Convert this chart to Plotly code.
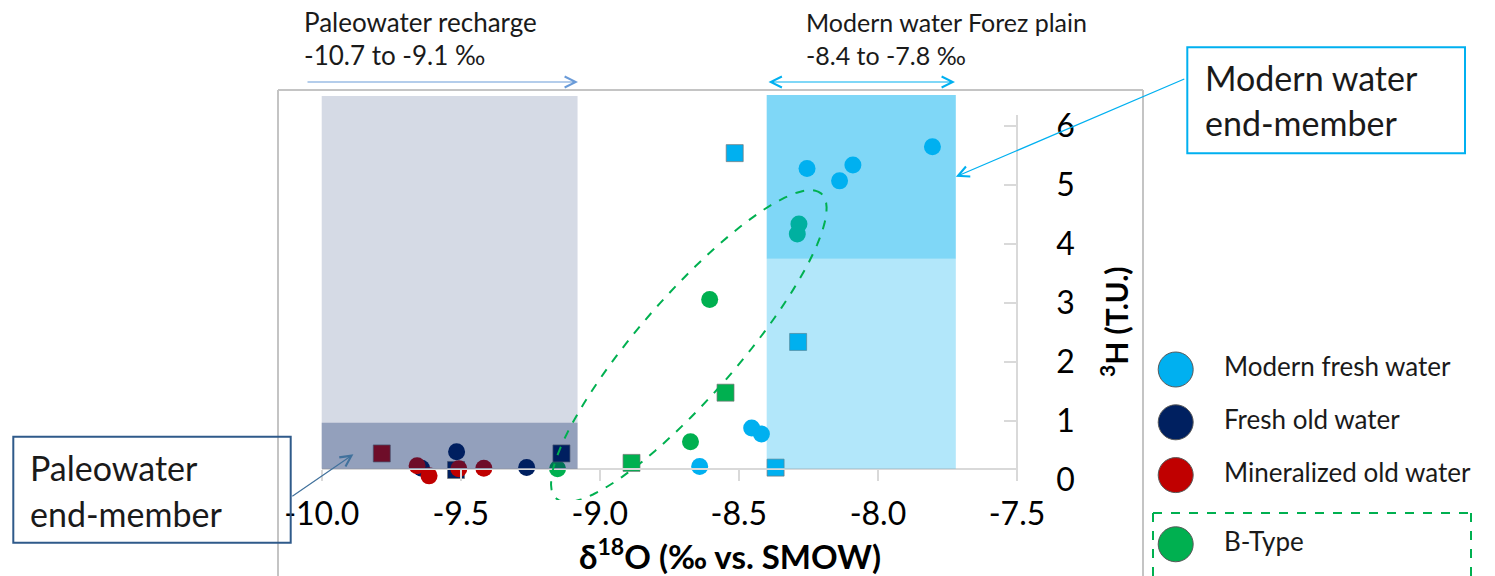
import numpy as np
import plotly.graph_objects as go

W, H = 1495, 576
FONT = "Lato, 'Open Sans', sans-serif"

# ---------------- data ----------------
X_TICKS = [-10.0, -9.5, -9.0, -8.5, -8.0, -7.5]
X_TICK_TEXT = ["-10.0", "-9.5", "-9.0", "-8.5", "-8.0", "-7.5"]
Y_TICKS = [0, 1, 2, 3, 4, 5, 6]

GROUPS = ["Modern fresh water", "Fresh old water", "Mineralized old water", "B-Type"]

modern_circle_x = [-8.255, -8.138, -8.090, -7.804, -8.454, -8.419, -8.641]
modern_circle_y = [5.28, 5.07, 5.34, 5.65, 0.88, 0.78, 0.23]
modern_square_x = [-8.515, -8.287, -8.368]
modern_square_y = [5.54, 2.34, 0.21]

btype_circle_x = [-8.284, -8.290, -8.605, -8.674, -9.152]
btype_circle_y = [4.34, 4.17, 3.06, 0.65, 0.19]
btype_square_x = [-8.548, -8.886]
btype_square_y = [1.48, 0.29]

fresh_old_circle_x = [-9.641, -9.515, -9.263]
fresh_old_circle_y = [0.20, 0.48, 0.21]
fresh_old_square_x = [-9.517, -9.138]
fresh_old_square_y = [0.17, 0.45]

mineral_circle_x = [-9.657, -9.614, -9.507, -9.417]
mineral_circle_y = [0.24, 0.07, 0.19, 0.20]
mineral_square_x = [-9.784]
mineral_square_y = [0.45]

# end-member zones (x: d18O, y: 3H)
PALEO_LABEL = (-10.7, -9.1)
MODERN_LABEL = (-8.4, -7.8)
PALEO_X = [-10.7, -9.08]
PALEO_Y = [0.19, 6.51]
PALEO_CORE_Y = [0.19, 0.97]
MODERN_X = [-8.4, -7.72]
MODERN_LOW_Y = [0.19, 3.75]
MODERN_HIGH_Y = [3.75, 6.525]

# B-type grouping ellipse (centre in data units, axes in pixels, angle in degrees)
ELL_CENTER = (-8.68, 2.27)
ELL_AXES_PX = (202, 50)
ELL_ANGLE = 49

COLORS = {
    "Modern fresh water": "#00b0f0",
    "Fresh old water": "#002060",
    "Mineralized old water": "#c00000",
    "B-Type": "#00b050",
}

# ---------------- helpers (layout) ----------------
def fx(p):
    return p / W


def fy(p):
    return 1 - p / H


X_DOM_PX = (321.7, 1017.0)
XPX = (X_DOM_PX[1] - X_DOM_PX[0]) / (X_TICKS[-1] - X_TICKS[0])
Y0_PX = 480.0
YPX = 59.0
MAIN_Y_DOM_PX = (500.0, 95.0)
AXIS_Y_DOM_PX = (480.0, 115.0)
XAXIS_LINE_PX = 469.0

fig = go.Figure()

# dummy trace so the visible tritium axis gets drawn
fig.add_trace(go.Scatter(x=[], y=[], xaxis="x", yaxis="y2", showlegend=False, hoverinfo="skip"))


def add_pts(xs, ys, group, symbol):
    fig.add_trace(go.Scatter(
        x=xs, y=ys, mode="markers", xaxis="x", yaxis="y", name=group,
        showlegend=False, cliponaxis=False,
        marker=dict(size=17, symbol=symbol, color=COLORS[group],
                    line=dict(width=1 if symbol == "square" else 0, color="rgba(120,120,120,0.7)")),
    ))


add_pts(modern_circle_x, modern_circle_y, "Modern fresh water", "circle")
add_pts(modern_square_x, modern_square_y, "Modern fresh water", "square")
add_pts(btype_circle_x, btype_circle_y, "B-Type", "circle")
add_pts(btype_square_x, btype_square_y, "B-Type", "square")
add_pts(fresh_old_square_x, fresh_old_square_y, "Fresh old water", "square")
add_pts(fresh_old_circle_x, fresh_old_circle_y, "Fresh old water", "circle")
add_pts(mineral_square_x, mineral_square_y, "Mineralized old water", "square")
add_pts(mineral_circle_x, mineral_circle_y, "Mineralized old water", "circle")

# ---------------- custom legend (own small subplot) ----------------
LEG_ROWS = [0, 1, 2, 3.31]
LEG_DOM_PX = (1150.0, 1490.0)
LEG_MARK_PX, LEG_TEXT_PX = 1175.7, 1224.0
leg_scale = LEG_TEXT_PX - LEG_MARK_PX
LEG_ROW0_PX, LEG_ROW_PX = 369.5, 52.8

fig.add_trace(go.Scatter(
    x=[0] * len(GROUPS), y=LEG_ROWS, mode="markers", xaxis="x3", yaxis="y3",
    showlegend=False, hoverinfo="skip", cliponaxis=False,
    marker=dict(size=35, color=[COLORS[g] for g in GROUPS], line=dict(width=1, color="#595959")),
))
fig.add_trace(go.Scatter(
    x=[1] * len(GROUPS), y=LEG_ROWS, mode="text", xaxis="x3", yaxis="y3",
    text=GROUPS, textposition="middle right", showlegend=False, hoverinfo="skip", cliponaxis=False,
    textfont=dict(family=FONT, size=26, color="#1a1a1a"),
))

# ---------------- shapes ----------------
shapes = []


def pline(x0, y0, x1, y1, color, width, dash="solid", layer="below"):
    shapes.append(dict(type="line", xref="paper", yref="paper", x0=fx(x0), y0=fy(y0), x1=fx(x1), y1=fy(y1),
                       line=dict(color=color, width=width, dash=dash), layer=layer))


# outer frame (left, top, right; continues past the bottom edge)
pline(278, H, 278, 90, "#c4c4c4", 2)
pline(278, 90, 1143, 90, "#c4c4c4", 2)
pline(1143, 90, 1143, H, "#c4c4c4", 2)

# paleowater zone
shapes.append(dict(type="rect", xref="x", yref="y", x0=PALEO_X[0], x1=PALEO_X[1], y0=PALEO_Y[0], y1=PALEO_Y[1],
                   line=dict(width=0), fillcolor="rgba(0,32,96,0.165)", layer="above"))
shapes.append(dict(type="rect", xref="x", yref="y", x0=PALEO_X[0], x1=PALEO_X[1], y0=PALEO_CORE_Y[0], y1=PALEO_CORE_Y[1],
                   line=dict(width=0), fillcolor="rgba(0,32,96,0.31)", layer="above"))
# modern zone
shapes.append(dict(type="rect", xref="x", yref="y", x0=MODERN_X[0], x1=MODERN_X[1], y0=MODERN_LOW_Y[0], y1=MODERN_LOW_Y[1],
                   line=dict(width=0), fillcolor="rgba(0,176,240,0.30)", layer="above"))
shapes.append(dict(type="rect", xref="x", yref="y", x0=MODERN_X[0], x1=MODERN_X[1], y0=MODERN_HIGH_Y[0], y1=MODERN_HIGH_Y[1],
                   line=dict(width=0), fillcolor="rgba(0,176,240,0.50)", layer="above"))

# B-type ellipse
t = np.linspace(0, 2 * np.pi, 97)
th = np.deg2rad(ELL_ANGLE)
a, b = ELL_AXES_PX
dx = a * np.cos(t) * np.cos(th) - b * np.sin(t) * np.sin(th)
dy = a * np.cos(t) * np.sin(th) + b * np.sin(t) * np.cos(th)
ex = ELL_CENTER[0] + dx / XPX
ey = ELL_CENTER[1] + dy / YPX
path = "M " + " L ".join(f"{u:.4f},{v:.4f}" for u, v in zip(ex, ey)) + " Z"
shapes.append(dict(type="path", xref="x", yref="y", path=path,
                   line=dict(color="#00b050", width=2, dash="dash"), layer="above"))

# callout boxes
shapes.append(dict(type="rect", xref="paper", yref="paper", x0=fx(1187.3), x1=fx(1465), y0=fy(153.3), y1=fy(47.3),
                   line=dict(color="#00b0f0", width=2), fillcolor="rgba(0,0,0,0)"))
shapes.append(dict(type="rect", xref="paper", yref="paper", x0=fx(13.3), x1=fx(290.7), y0=fy(542.7), y1=fy(436.7),
                   line=dict(color="#2f5a8a", width=2), fillcolor="rgba(0,0,0,0)", layer="above"))
# B-type legend dashed box (open at the bottom edge)
pline(1153, H, 1153, 513, "#00b050", 2, "dash", "above")
pline(1153, 513, 1471, 513, "#00b050", 2, "dash", "above")
pline(1471, 513, 1471, H, "#00b050", 2, "dash", "above")

# ---------------- annotations ----------------
ann = []


def txt(s, xp, yp, size, anchor="left", color="#1a1a1a", **kw):
    ann.append(dict(text=s, xref="paper", yref="paper", x=fx(xp), y=fy(yp), xanchor=anchor, yanchor="middle",
                    showarrow=False, font=dict(family=FONT, size=size, color=color), **kw))


txt("Paleowater recharge", 302, 22, 26)
txt(f"{PALEO_LABEL[0]:.1f} to {PALEO_LABEL[1]:.1f} ‰", 302, 55, 26)
txt("Modern water Forez plain", 804, 22, 25)
txt(f"{MODERN_LABEL[0]:.1f} to {MODERN_LABEL[1]:.1f} ‰", 804, 55, 25)
txt("Modern water", 1203, 78, 34)
txt("end-member", 1203, 123, 34)
txt("Paleowater", 28, 467, 34)
txt("end-member", 28, 513, 34)
txt("<b>δ<sup>18</sup>O (‰ vs. SMOW)</b>", 730, 554, 33, anchor="center", color="#000")
txt("<b><sup>3</sup>H (T.U.)</b>", 1114, 322, 30, anchor="center", color="#000", textangle=-90)

# range arrows on top
ann.append(dict(text="", xref="paper", yref="paper", x=fx(578), y=fy(82), ax=-(578 - 306), ay=0,
                showarrow=True, arrowhead=5, arrowsize=1.8, arrowwidth=1.2, arrowcolor="#6a9bd8", standoff=0))
ann.append(dict(text="", xref="paper", yref="paper", x=fx(955), y=fy(82), ax=-(955 - 767), ay=0,
                showarrow=True, arrowhead=5, startarrowhead=5, arrowside="end+start",
                arrowsize=1.8, startarrowsize=1.8, arrowwidth=1.2, arrowcolor="#00b0f0", standoff=0, startstandoff=0))
# callout arrows
ann.append(dict(text="", xref="x", yref="y", x=MODERN_X[1], y=5.14, ax=230, ay=-98.4,
                showarrow=True, arrowhead=5, arrowsize=1.8, arrowwidth=1.2, arrowcolor="#00b0f0", standoff=0))
ann.append(dict(text="", xref="x", yref="y", x=-9.886, y=0.435, ax=-62.6, ay=43,
                showarrow=True, arrowhead=5, arrowsize=1.8, arrowwidth=1.2, arrowcolor="#41719c", standoff=0))

# ---------------- layout ----------------
fig.update_layout(
    width=W, height=H, margin=dict(l=0, r=0, t=0, b=0, pad=0), autosize=False,
    paper_bgcolor="white", plot_bgcolor="rgba(0,0,0,0)",
    font=dict(family=FONT, color="#000"),
    showlegend=False,
    shapes=shapes, annotations=ann,
    xaxis=dict(domain=[fx(X_DOM_PX[0]), fx(X_DOM_PX[1])], range=[X_TICKS[0], X_TICKS[-1]],
               anchor="free", position=fy(XAXIS_LINE_PX), automargin=False,
               showline=True, linecolor="#d9d9d9", linewidth=1.5,
               ticks="outside", ticklen=11, tickwidth=1.5, tickcolor="#d9d9d9",
               tickvals=X_TICKS, ticktext=X_TICK_TEXT, ticklabelstandoff=6,
               tickfont=dict(family=FONT, size=32, color="#000"),
               showgrid=False, zeroline=False, fixedrange=True),
    yaxis=dict(domain=[fy(MAIN_Y_DOM_PX[0]), fy(MAIN_Y_DOM_PX[1])],
               range=[(Y0_PX - MAIN_Y_DOM_PX[0]) / YPX, (Y0_PX - MAIN_Y_DOM_PX[1]) / YPX],
               visible=False, automargin=False, fixedrange=True),
    yaxis2=dict(domain=[fy(AXIS_Y_DOM_PX[0]), fy(AXIS_Y_DOM_PX[1])],
                range=[(Y0_PX - AXIS_Y_DOM_PX[0]) / YPX, (Y0_PX - AXIS_Y_DOM_PX[1]) / YPX],
                anchor="free", position=fx(X_DOM_PX[1]), side="right", automargin=False,
                showline=True, linecolor="#d9d9d9", linewidth=1.5,
                ticks="inside", ticklen=12, tickwidth=1.5, tickcolor="#d9d9d9",
                tickvals=Y_TICKS, ticklabelstandoff=32,
                tickfont=dict(family=FONT, size=32, color="#000"),
                showgrid=False, zeroline=False, fixedrange=True),
    xaxis3=dict(domain=[fx(LEG_DOM_PX[0]), fx(LEG_DOM_PX[1])],
                range=[-(LEG_MARK_PX - LEG_DOM_PX[0]) / leg_scale, (LEG_DOM_PX[1] - LEG_MARK_PX) / leg_scale],
                anchor="y3", visible=False, automargin=False, fixedrange=True),
    yaxis3=dict(domain=[0, fy(340)],
                range=[(H - LEG_ROW0_PX) / LEG_ROW_PX, (340 - LEG_ROW0_PX) / LEG_ROW_PX],
                anchor="x3", visible=False, automargin=False, fixedrange=True),
)

fig.write_html("out.html")
